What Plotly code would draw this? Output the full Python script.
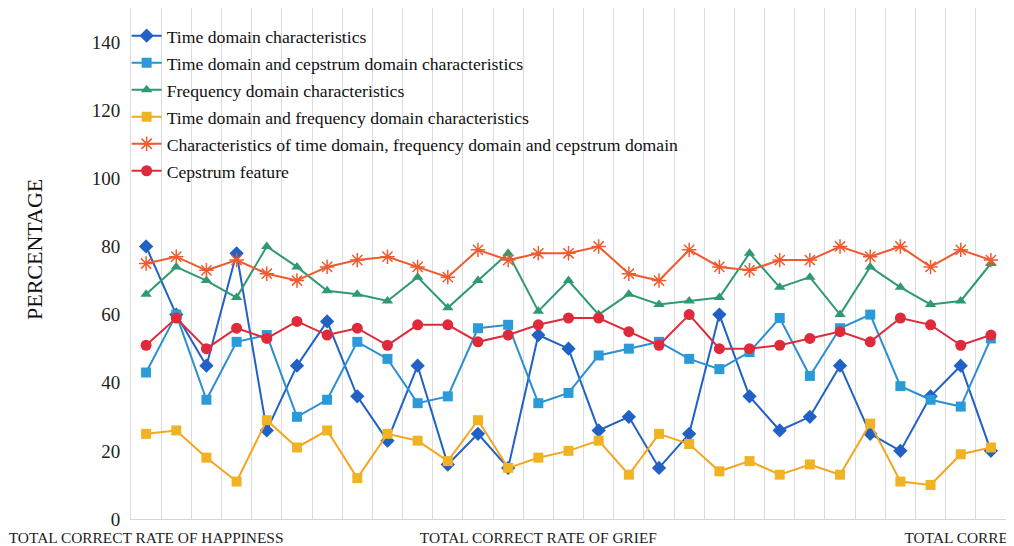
import plotly.graph_objects as go

idx = list(range(29))
tick_positions = [0, 13, 26.85]
tick_labels = ["TOTAL CORRECT RATE OF HAPPINESS", "TOTAL CORRECT RATE OF GRIEF", "TOTAL CORRE"]
y_title = "PERCENTAGE"

time_domain = [80, 60, 45, 78, 26, 45, 58, 36, 23, 45, 16, 25, 15, 54, 50, 26, 30, 15, 25, 60,
               36, 26, 30, 45, 25, 20, 36, 45, 20]
time_cepstrum = [43, 60, 35, 52, 54, 30, 35, 52, 47, 34, 36, 56, 57, 34, 37, 48, 50, 52, 47, 44,
                 49, 59, 42, 56, 60, 39, 35, 33, 53]
frequency = [66, 74, 70, 65, 80, 74, 67, 66, 64, 71, 62, 70, 78, 61, 70, 60, 66, 63, 64, 65,
             78, 68, 71, 60, 74, 68, 63, 64, 75]
time_frequency = [25, 26, 18, 11, 29, 21, 26, 12, 25, 23, 17, 29, 15, 18, 20, 23, 13, 25, 22, 14,
                  17, 13, 16, 13, 28, 11, 10, 19, 21]
all_domains = [75, 77, 73, 76, 72, 70, 74, 76, 77, 74, 71, 79, 76, 78, 78, 80, 72, 70, 79, 74,
               73, 76, 76, 80, 77, 80, 74, 79, 76]
cepstrum = [51, 59, 50, 56, 53, 58, 54, 56, 51, 57, 57, 52, 54, 57, 59, 59, 55, 51, 60, 50,
            50, 51, 53, 55, 52, 59, 57, 51, 54]

series = [
    ("Time domain characteristics", time_domain, "#2160c4", "#2160c4", "diamond", 11),
    ("Time domain and cepstrum domain characteristics", time_cepstrum, "#2b8fd0", "#2b9ad8", "square", 10),
    ("Frequency domain characteristics", frequency, "#2f9a70", "#2f9a70", "triangle-up", 10),
    ("Time domain and frequency domain characteristics", time_frequency, "#f4a61f", "#f0b323", "square", 10),
    ("Characteristics of time domain, frequency domain and cepstrum domain", all_domains, "#ef5a2e", "#ef5a2e", "asterisk-open", 12),
    ("Cepstrum feature", cepstrum, "#df2a3c", "#df2a3c", "circle", 11),
]

SERIF = "'Liberation Serif', 'Times New Roman', 'DejaVu Serif', serif"

fig = go.Figure()
for i, (name, vals, lc, mc, sym, size) in enumerate(series):
    fig.add_trace(go.Scatter(
        x=idx, y=vals, name=name, mode="lines+markers",
        line=dict(color=lc, width=2),
        marker=dict(symbol=sym, size=size, color=mc, line=dict(color=mc, width=1.5 if "asterisk" in sym else 0)),
        legendgroup=f"g{i}",
    ))

fig.update_layout(
    width=1006, height=538,
    margin=dict(l=123, r=8, t=0, b=27, autoexpand=False),
    paper_bgcolor="white", plot_bgcolor="white",
    font=dict(family=SERIF, color="#222222"),
    showlegend=True,
    legend=dict(
        x=-0.005, y=0.981, xanchor="left", yanchor="top",
        font=dict(size=17.7, family=SERIF, color="#111111"),
        bgcolor="rgba(0,0,0,0)", tracegroupgap=1, itemwidth=30,
    ),
    xaxis=dict(
        range=[-0.5, 28.5], tickvals=tick_positions, ticktext=tick_labels,
        showgrid=False, zeroline=False, ticks="", automargin=False,
        tickfont=dict(size=15.4, family=SERIF, color="#222222"),
        ticklabelstandoff=5,
        showline=True, linecolor="#d4d4d4", linewidth=1,
        minor=dict(tick0=-0.5, dtick=1, showgrid=True, gridcolor="#dcdcdc", gridwidth=1),
    ),
    yaxis=dict(
        range=[0, 150], tickvals=[0, 20, 40, 60, 80, 100, 120, 140],
        showgrid=False, zeroline=False, ticks="", automargin=False,
        tickfont=dict(size=19, family=SERIF, color="#222222"),
        ticklabelstandoff=6,
        showline=True, linecolor="#dcdcdc", linewidth=1, mirror=True,
    ),
    annotations=[dict(
        text=y_title, textangle=-90, xref="paper", yref="paper",
        x=-97 / 875, y=(519 - 250) / 511, xanchor="center", yanchor="middle",
        showarrow=False, font=dict(size=22, family=SERIF, color="#111111"),
    )],
)

fig.write_html("out.html")
